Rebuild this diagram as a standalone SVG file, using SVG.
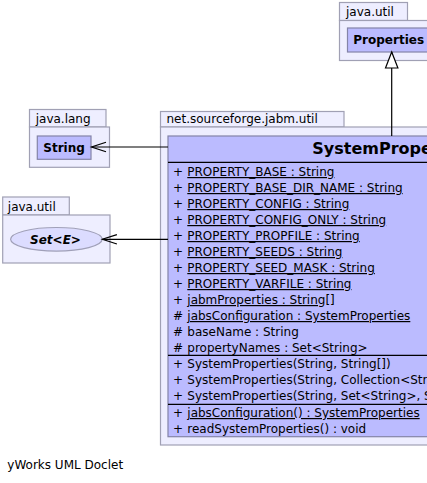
<svg xmlns="http://www.w3.org/2000/svg" width="427" height="483" viewBox="0 0 427 483">
<style>
text{font-family:"DejaVu Sans","Liberation Sans",sans-serif;font-size:12px;fill:#000}
.pkg{fill:#eeeeff;stroke:#a0a0b4;stroke-width:1.2}
.cls{fill:#bbbbff;stroke:#8484a8;stroke-width:1.2}
.ell{fill:#dcdcff;stroke:#a0a0b8;stroke-width:1.2}
.sep{stroke:#000;stroke-width:1.2}
.b{font-weight:bold}
.bi{font-weight:bold;font-style:italic}
.title{font-weight:bold;font-size:16px}
.u{text-decoration:underline}
.edge{fill:none;stroke:#000;stroke-width:1.2}
</style>
<defs>
<marker id="open" markerUnits="userSpaceOnUse" orient="auto" refX="0" refY="0" markerWidth="20" markerHeight="14" viewBox="-17 -7 20 14" style="overflow:visible">
<path d="M-14.5,-4.7 L0,0 L-14.5,4.7" fill="none" stroke="#000" stroke-width="1.2"/>
</marker>
<marker id="tri" markerUnits="userSpaceOnUse" orient="auto" refX="0" refY="0" markerWidth="20" markerHeight="16" viewBox="-18 -8 20 16" style="overflow:visible">
<path d="M-16,-6.2 L0,0 L-16,6.2 Z" fill="#fff" stroke="#000" stroke-width="1.2"/>
</marker>
</defs>

<g id="pkg-java-util-top">
<rect class="pkg" x="339.5" y="2.5" width="68" height="18"/>
<rect class="pkg" x="339.5" y="20.5" width="100" height="40"/>
<text x="346" y="16">java.util</text>
</g>
<g id="Properties">
<rect class="cls" x="347.5" y="28" width="90" height="24"/>
<text class="b" x="353.3" y="44.4">Properties</text>
</g>

<g id="pkg-java-lang">
<rect class="pkg" x="29.5" y="109.5" width="76.5" height="17.5"/>
<rect class="pkg" x="29.5" y="127" width="80" height="40.3"/>
<text x="35.7" y="122.5">java.lang</text>
</g>
<g id="String">
<rect class="cls" x="37.3" y="136" width="53.7" height="23.3"/>
<text class="b" x="43.3" y="152">String</text>
</g>

<g id="pkg-java-util">
<rect class="pkg" x="2.7" y="197" width="66.6" height="18"/>
<rect class="pkg" x="2.7" y="215" width="107.3" height="48"/>
<text x="7.8" y="210.5">java.util</text>
</g>
<g id="Set">
<ellipse class="ell" cx="56.4" cy="239.3" rx="45.8" ry="11.8"/>
<text class="bi" x="55.5" y="243.7" text-anchor="middle">Set&lt;E&gt;</text>
</g>

<g id="pkg-net-sourceforge-jabm-util">
<rect class="pkg" x="160.5" y="111.5" width="183.5" height="15.5"/>
<rect class="pkg" x="160.5" y="127" width="300" height="318"/>
<text x="166.5" y="123.2">net.sourceforge.jabm.util</text>
</g>
<g id="SystemProperties">
<rect class="cls" x="168" y="136" width="290" height="300.7"/>
<text class="title" x="312.3" y="154">SystemProperties</text>
<line class="sep" x1="168" y1="162.3" x2="460" y2="162.3"/>
<line class="sep" x1="168" y1="355.4" x2="460" y2="355.4"/>
<line class="sep" x1="168" y1="404.4" x2="460" y2="404.4"/>
<g>
<text x="173" y="176">+</text><text class="u" x="187.3" y="176">PROPERTY_BASE : String</text>
<text x="173" y="192">+</text><text class="u" x="187.3" y="192">PROPERTY_BASE_DIR_NAME : String</text>
<text x="173" y="208">+</text><text class="u" x="187.3" y="208">PROPERTY_CONFIG : String</text>
<text x="173" y="224">+</text><text class="u" x="187.3" y="224">PROPERTY_CONFIG_ONLY : String</text>
<text x="173" y="240">+</text><text class="u" x="187.3" y="240">PROPERTY_PROPFILE : String</text>
<text x="173" y="256">+</text><text class="u" x="187.3" y="256">PROPERTY_SEEDS : String</text>
<text x="173" y="272">+</text><text class="u" x="187.3" y="272">PROPERTY_SEED_MASK : String</text>
<text x="173" y="288">+</text><text class="u" x="187.3" y="288">PROPERTY_VARFILE : String</text>
<text x="173" y="304">+</text><text class="u" x="187.3" y="304">jabmProperties : String[]</text>
<text x="173" y="320">#</text><text class="u" x="187.3" y="320">jabsConfiguration : SystemProperties</text>
<text x="173" y="336">#</text><text x="187.3" y="336">baseName : String</text>
<text x="173" y="352">#</text><text x="187.3" y="352">propertyNames : Set&lt;String&gt;</text>
</g>
<g>
<text x="173" y="368">+</text><text x="187.3" y="368">SystemProperties(String, String[])</text>
<text x="173" y="384">+</text><text x="187.3" y="384">SystemProperties(String, Collection&lt;String&gt;)</text>
<text x="173" y="400">+</text><text x="187.3" y="400">SystemProperties(String, Set&lt;String&gt;, String[])</text>
</g>
<g>
<text x="173" y="417">+</text><text class="u" x="187.3" y="417">jabsConfiguration() : SystemProperties</text>
<text x="173" y="433">+</text><text x="187.3" y="433">readSystemProperties() : void</text>
</g>
</g>

<g id="connectors">
<line class="edge" x1="168" y1="147" x2="91.5" y2="147" marker-end="url(#open)"/>
<line class="edge" x1="168" y1="239.3" x2="102.4" y2="239.3" marker-end="url(#open)"/>
<line class="edge" x1="391.7" y1="136" x2="391.7" y2="52" marker-end="url(#tri)"/>
</g>

<text x="7.3" y="469.3">yWorks UML Doclet</text>
</svg>
